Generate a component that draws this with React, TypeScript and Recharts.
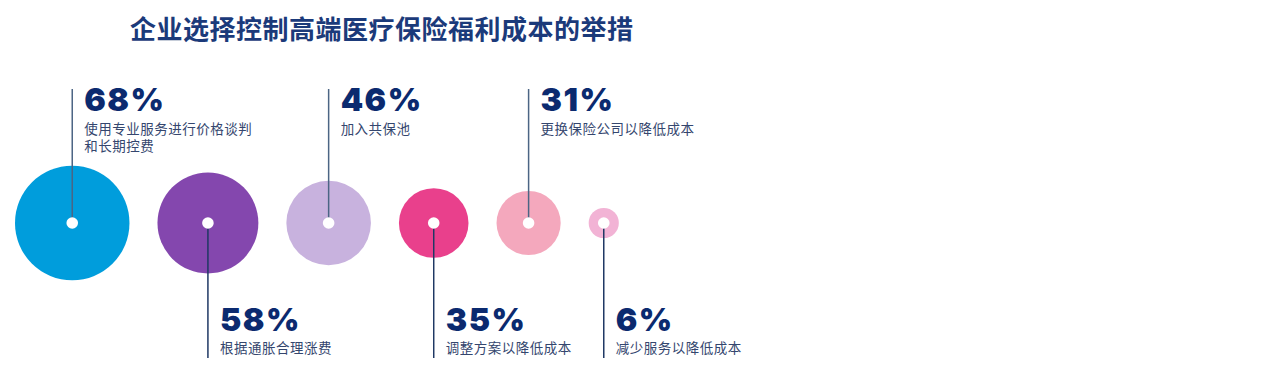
import { ScatterChart, Scatter, XAxis, YAxis, ZAxis } from "recharts"

const title = "企业选择控制高端医疗保险福利成本的举措"

const values = [68, 58, 46, 35, 31, 6]
const labels = [
  ["使用专业服务进行价格谈判", "和长期控费"],
  ["根据通胀合理涨费"],
  ["加入共保池"],
  ["调整方案以降低成本"],
  ["更换保险公司以降低成本"],
  ["减少服务以降低成本"],
]
const colors = ["#009ddc", "#8447ae", "#c8b2de", "#e9408c", "#f4a8bd", "#f2b3d5"]

// bubble radius (px) is read straight from the z scale
const Z_DOMAIN: [number, number] = [0, 100]
const R_RANGE: [number, number] = [11, 79]
const LEFT = 15
const GAP = 28

const radiusOf = (v: number) =>
  R_RANGE[0] + ((v - Z_DOMAIN[0]) / (Z_DOMAIN[1] - Z_DOMAIN[0])) * (R_RANGE[1] - R_RANGE[0])

// pack the bubbles side by side with a fixed gap between edges
const packed: number[] = []
values.forEach((v, i) => {
  const r = radiusOf(v)
  if (i === 0) packed.push(LEFT + r)
  else packed.push(packed[i - 1] + radiusOf(values[i - 1]) + GAP + r)
})

const data = values.map((v, i) => ({
  x: packed[i],
  y: 0,
  value: v,
  lines: labels[i],
  color: colors[i],
  up: i % 2 === 0,
}))

const NAVY = "#0b2a6f"
const CJK = '"Noto Sans CJK SC", "Noto Sans", sans-serif'

function Bubble(props: any) {
  const { cx, cy, payload } = props
  const r = props.size ?? props.width / 2
  const up = payload.up
  const end = up ? cy - 134 : cy + 135
  const tx = cx + 12
  return (
    <g>
      <circle cx={cx} cy={cy} r={r} fill={payload.color} />
      <line x1={cx} y1={cy} x2={cx} y2={end} stroke={up ? "#4b6584" : "#1f3864"} strokeWidth={1.5} />
      <circle cx={cx} cy={cy} r={5.8} fill="#fff" />
      <text
        x={tx}
        y={up ? end + 22 : end - 27}
        fill={NAVY}
        fontFamily="Inter, sans-serif"
        fontWeight={900}
        fontSize={32}
        letterSpacing={1.5}
      >
        {payload.value}%
      </text>
      <text
        x={tx}
        y={up ? end + 45 : end - 5}
        fill="#34466e"
        fontFamily={CJK}
        fontSize={13.5}
        letterSpacing={0.5}
      >
        {payload.lines.map((l: string, k: number) => (
          <tspan key={k} x={tx} dy={k === 0 ? 0 : 17}>
            {l}
          </tspan>
        ))}
      </text>
    </g>
  )
}

export default function App() {
  return (
    <div style={{ position: "absolute", left: 0, top: 0, width: 1280, height: 384, background: "#fff" }}>
      <div
        style={{
          position: "absolute",
          left: 130,
          top: 12,
          fontFamily: CJK,
          fontWeight: 700,
          fontSize: 26,
          letterSpacing: 0.5,
          lineHeight: "32px",
          color: "#1b3a7a",
          whiteSpace: "nowrap",
        }}
      >
        {title}
      </div>
      <ScatterChart width={1280} height={384} margin={{ top: 62, right: 0, bottom: 0, left: 0 }}>
        <XAxis type="number" dataKey="x" domain={[0, 1280]} hide />
        <YAxis type="number" dataKey="y" domain={[-1, 1]} hide />
        <ZAxis type="number" dataKey="value" domain={Z_DOMAIN} range={R_RANGE} />
        <Scatter data={data} shape={Bubble} isAnimationActive={false} />
      </ScatterChart>
    </div>
  )
}
